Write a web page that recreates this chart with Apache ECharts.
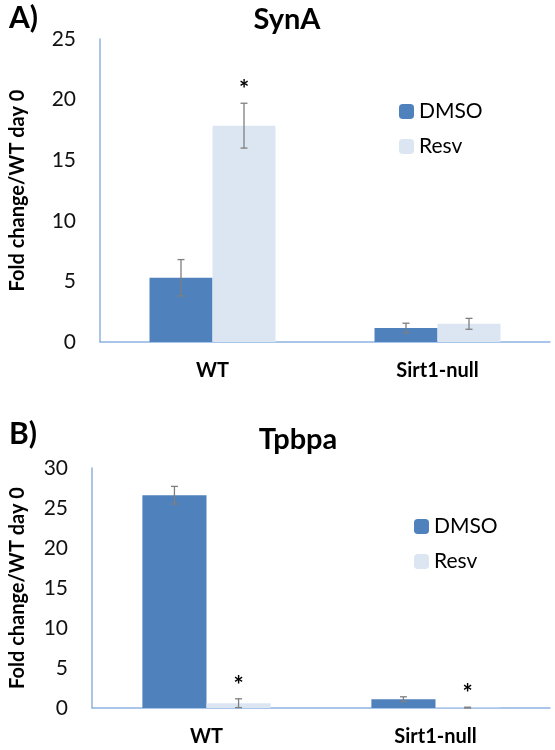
<!DOCTYPE html>
<html>
<head>
<meta charset="utf-8">
<script src="https://cdn.jsdelivr.net/npm/echarts@6/dist/echarts.min.js"></script>
<style>html,body{margin:0;padding:0;background:#fff}#c{width:555px;height:750px}</style>
</head>
<body>
<div id="c"></div>
<script>
// ---- data ----
const categories = ['WT', 'Sirt1-null'];
const seriesNames = ['DMSO', 'Resv'];
// SynA panel
const synaDmso = [5.3, 1.15];
const synaDmsoErr = [1.5, 0.4];
const synaResv = [17.85, 1.5];
const synaResvErr = [1.85, 0.45];
const synaResvStar = ['*', ''];
const synaTicks = [0, 5, 10, 15, 20, 25];
// Tpbpa panel
const tpbpaDmso = [26.6, 1.1];
const tpbpaDmsoErr = [1.1, 0.3];
const tpbpaResv = [0.6, 0.05];
const tpbpaResvErr = [0.55, 0.05];
const tpbpaResvStar = ['*', '*'];
const tpbpaTicks = [0, 5, 10, 15, 20, 25, 30];

const FONT = 'Lato, "Open Sans", sans-serif';
const C_DMSO = '#4f81bd';
const C_RESV = '#dce6f2';
const AXIS_C = '#8db3e2';
const BAR_W = 0.28;

function errSeries(gridIdx, vals, errs, stars, side) {
  return {
    type: 'custom', xAxisIndex: gridIdx, yAxisIndex: gridIdx, silent: true, z: 5,
    data: vals.map((v, i) => [i, v, errs[i]]),
    renderItem: function (params, api) {
      const i = api.value(0), v = api.value(1), e = api.value(2);
      const band = api.size([1, 0])[0];
      const c = api.coord([i, v]);
      const x = c[0] + side * band * BAR_W / 2;
      const yt = api.coord([i, v + e])[1];
      const yb = api.coord([i, Math.max(v - e, 0)])[1];
      const st = { stroke: '#7f7f7f', lineWidth: 1.3 };
      const kids = [
        { type: 'line', shape: { x1: x, y1: yt, x2: x, y2: yb }, style: st },
        { type: 'line', shape: { x1: x - 3.5, y1: yt, x2: x + 3.5, y2: yt }, style: st },
        { type: 'line', shape: { x1: x - 3.5, y1: yb, x2: x + 3.5, y2: yb }, style: st }
      ];
      const star = stars[i];
      if (star) {
        kids.push({ type: 'text', style: { text: star, x: x, y: yt - 13, align: 'center', verticalAlign: 'middle',
          font: 'bold 24px ' + FONT, fill: '#000' } });
      }
      return { type: 'group', children: kids };
    }
  };
}

function yAxis(gridIdx, ticks, gap) {
  return {
    gridIndex: gridIdx, type: 'value', min: ticks[0], max: ticks[ticks.length - 1], interval: ticks[1] - ticks[0],
    axisLine: { show: true, lineStyle: { color: AXIS_C, width: 1.5 } },
    axisTick: { show: false }, splitLine: { show: false },
    axisLabel: { color: '#111', fontSize: 21, fontFamily: FONT, margin: 24 },
    name: 'Fold change/WT day 0', nameLocation: 'middle', nameGap: gap,
    nameTextStyle: { color: '#000', fontSize: 20, fontWeight: 'bold', fontFamily: FONT }
  };
}
function xAxis(gridIdx) {
  return {
    gridIndex: gridIdx, type: 'category', data: categories,
    axisLine: { show: true, lineStyle: { color: AXIS_C, width: 1.5 } },
    axisTick: { show: false },
    axisLabel: { color: '#000', fontSize: 20, fontWeight: 'bold', fontFamily: FONT, margin: 19 }
  };
}
function bar(gridIdx, name, vals, color) {
  return {
    type: 'bar', name: name, xAxisIndex: gridIdx, yAxisIndex: gridIdx, data: vals,
    barWidth: (BAR_W * 100) + '%', barGap: '0%', itemStyle: { color: color }
  };
}

const chart = echarts.init(document.getElementById('c'), null, { renderer: 'canvas' });
chart.setOption({
  animation: false,
  backgroundColor: '#fff',
  color: [C_DMSO, C_RESV],
  title: [
    { text: 'A)', left: 4, top: -2, textStyle: { fontSize: 30, fontWeight: 'bold', fontFamily: FONT, color: '#000' } },
    { text: 'SynA', left: 282, top: 0, textAlign: 'center', textStyle: { fontSize: 29, fontWeight: 'bold', fontFamily: FONT, color: '#000' } },
    { text: 'B)', left: 4, top: 414, textStyle: { fontSize: 30, fontWeight: 'bold', fontFamily: FONT, color: '#000' } },
    { text: 'Tpbpa', left: 293, top: 420, textAlign: 'center', textStyle: { fontSize: 29, fontWeight: 'bold', fontFamily: FONT, color: '#000' } }
  ],
  legend: [
    { data: seriesNames, orient: 'vertical', left: 394, top: 96, itemWidth: 15, itemHeight: 15, itemGap: 14,
      textStyle: { fontSize: 21, fontFamily: FONT, color: '#000' } },
    { data: seriesNames, orient: 'vertical', left: 409, top: 511, itemWidth: 15, itemHeight: 15, itemGap: 14,
      textStyle: { fontSize: 21, fontFamily: FONT, color: '#000' } }
  ],
  grid: [
    { left: 95, right: 5, top: 39, bottom: 408 },
    { left: 87, right: 5, top: 468, bottom: 42 }
  ],
  xAxis: [xAxis(0), xAxis(1)],
  yAxis: [yAxis(0, synaTicks, 72), yAxis(1, tpbpaTicks, 64)],
  series: [
    bar(0, 'DMSO', synaDmso, C_DMSO),
    bar(0, 'Resv', synaResv, C_RESV),
    bar(1, 'DMSO', tpbpaDmso, C_DMSO),
    bar(1, 'Resv', tpbpaResv, C_RESV),
    errSeries(0, synaDmso, synaDmsoErr, ['', ''], -1),
    errSeries(0, synaResv, synaResvErr, synaResvStar, 1),
    errSeries(1, tpbpaDmso, tpbpaDmsoErr, ['', ''], -1),
    errSeries(1, tpbpaResv, tpbpaResvErr, tpbpaResvStar, 1)
  ]
});
</script>
</body>
</html>
